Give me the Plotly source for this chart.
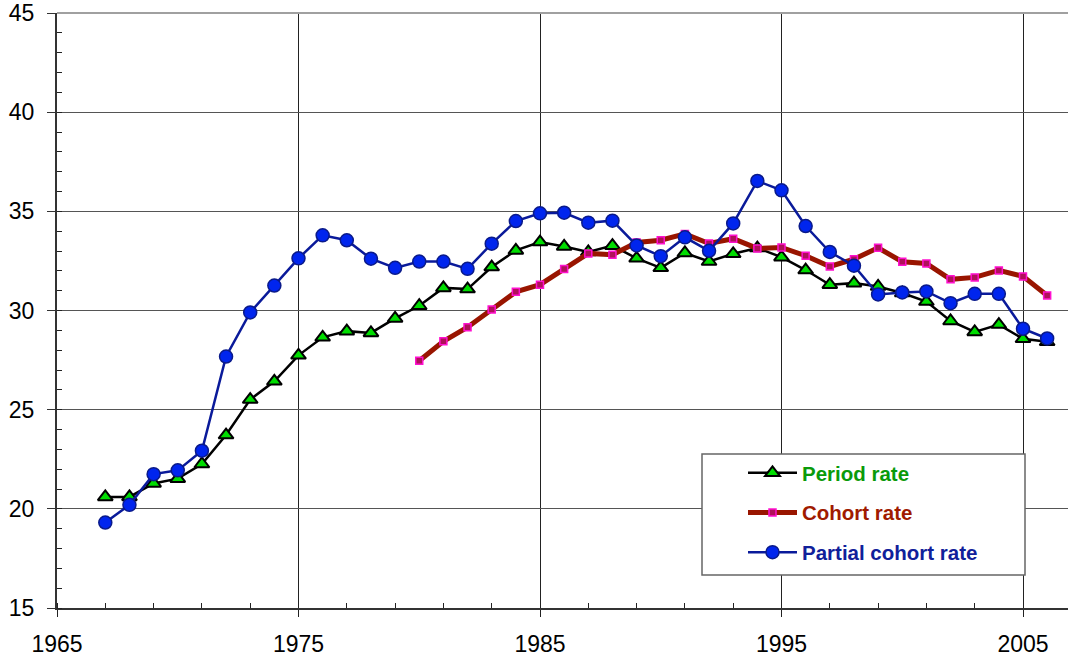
import plotly.graph_objects as go

years = list(range(1967, 2007))
cohort_years = list(range(1980, 2007))

period_rate = [20.6, 20.6, 21.28, 21.52, 22.26, 23.72, 25.51, 26.43, 27.74, 28.65,
               28.96, 28.87, 29.6, 30.24, 31.14, 31.08, 32.19, 33.03, 33.45, 33.23,
               32.95, 33.27, 32.63, 32.15, 32.9, 32.47, 32.86, 33.15, 32.69, 32.04,
               31.30, 31.38, 31.21, 30.88, 30.45, 29.47, 28.92, 29.29, 28.57, 28.42]

partial_cohort_rate = [19.31, 20.2, 21.75, 21.94, 22.93, 27.68, 29.9, 31.26, 32.63, 33.79,
                       33.54, 32.61, 32.15, 32.47, 32.47, 32.10, 33.37, 34.51, 34.9, 34.93,
                       34.43, 34.53, 33.28, 32.74, 33.69, 33.01, 34.39, 36.53, 36.06, 34.26,
                       32.95, 32.26, 30.81, 30.91, 30.96, 30.37, 30.84, 30.84, 29.08, 28.59]

cohort_rate = [27.47, 28.45, 29.16, 30.05, 30.94, 31.3, 32.09, 32.88, 32.81, 33.43,
               33.54, 33.86, 33.38, 33.62, 33.13, 33.18, 32.76, 32.22, 32.59, 33.16,
               32.46, 32.37, 31.57, 31.67, 32.02, 31.72, 30.76]

x_ticks = [1965, 1975, 1985, 1995, 2005]
y_ticks = [15, 20, 25, 30, 35, 40, 45]

fig = go.Figure()

fig.add_trace(go.Scatter(
    x=years, y=period_rate, mode="lines+markers",
    name='<b><span style="color:#0A9A0A">Period rate</span></b>',
    legendgroup="a",
    line=dict(color="black", width=2.5),
    marker=dict(symbol="triangle-up", size=13, color="#00DD00",
                line=dict(color="black", width=2)),
))
fig.add_trace(go.Scatter(
    x=cohort_years, y=cohort_rate, mode="lines+markers",
    name='<b><span style="color:#A01A00">Cohort rate</span></b>',
    legendgroup="b",
    line=dict(color="#991500", width=5),
    marker=dict(symbol="square", size=7, color="#B0105A",
                line=dict(color="#FF10D0", width=1.5)),
))
fig.add_trace(go.Scatter(
    x=years, y=partial_cohort_rate, mode="lines+markers",
    name='<b><span style="color:#10209A">Partial cohort rate</span></b>',
    legendgroup="c",
    line=dict(color="#0A1A9A", width=2.5),
    marker=dict(symbol="circle", size=13, color="#0025EE",
                line=dict(color="#0A1A8A", width=1.5)),
))

font_family = "Liberation Sans, Arial, sans-serif"

# plot area: 1011 x 595 px
PW, PH = 1011, 595
L, T, B = 57, 13, 51

fig.update_layout(
    width=1068, height=659,
    margin=dict(l=L, r=0, t=T, b=B),
    paper_bgcolor="white", plot_bgcolor="white",
    font=dict(family=font_family, color="black"),
    showlegend=True,
    legend=dict(
        x=(743 - L) / PW, y=(T + PH - 453) / PH,
        xanchor="left", yanchor="top",
        bgcolor="rgba(0,0,0,0)", borderwidth=0,
        font=dict(size=20.5, family=font_family),
        itemwidth=49, tracegroupgap=10,
    ),
    xaxis=dict(
        range=[1965, 1965 + PW / 24.15],
        tickvals=x_ticks, ticktext=[str(v) for v in x_ticks],
        ticks="outside", ticklen=7, tickcolor="#222", tickwidth=1.2,
        showgrid=True, gridcolor="#222", gridwidth=1,
        showline=True, linecolor="#333", linewidth=1.5,
        zeroline=False, automargin=False,
        tickfont=dict(size=23, color="black"),
        ticklabelstandoff=8,
        minor=dict(ticks="inside", dtick=2, tick0=1965, ticklen=5,
                   tickcolor="#222", tickwidth=1.2, showgrid=False),
    ),
    yaxis=dict(
        range=[15, 45],
        tickvals=y_ticks, ticktext=[str(v) for v in y_ticks],
        ticks="outside", ticklen=8, tickcolor="#333", tickwidth=1.2,
        showgrid=True, gridcolor="#555", gridwidth=1,
        showline=True, linecolor="#333", linewidth=2,
        zeroline=False, automargin=False,
        tickfont=dict(size=23, color="black"),
        ticklabelstandoff=8,
        minor=dict(ticks="inside", dtick=1, ticklen=5,
                   tickcolor="#222", tickwidth=1.2, showgrid=False),
    ),
    shapes=[
        dict(type="line", xref="paper", yref="paper", x0=0, x1=1, y0=1, y1=1,
             line=dict(color="#A0A0A0", width=2), layer="above"),
        dict(type="rect", xref="paper", yref="paper",
             x0=(702 - L) / PW, x1=(1025 - L) / PW,
             y0=(T + PH - 575) / PH, y1=(T + PH - 454) / PH,
             fillcolor="white", line=dict(color="#666", width=1.5), layer="above"),
    ],
)

fig.write_html("out.html", config={"displayModeBar": False},
               post_script="document.body.style.margin='0';")
